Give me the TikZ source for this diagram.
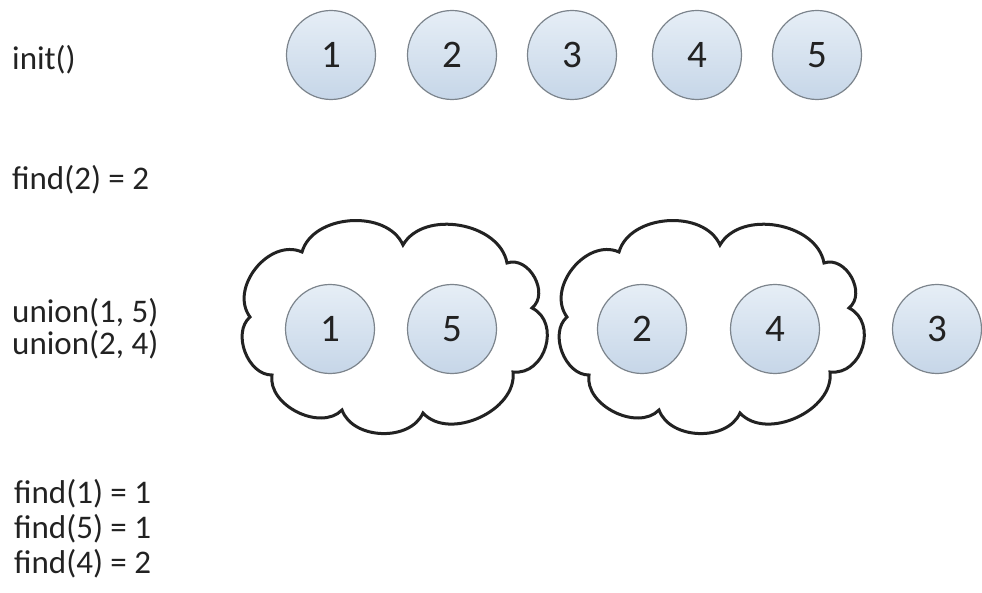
\documentclass[tikz,border=0pt]{standalone}
\usepackage{fontspec}
\setmainfont{Carlito}
\usepackage{xcolor}
\definecolor{ringgrey}{HTML}{7C848C}
\definecolor{fillhi}{HTML}{E6EEF6}
\definecolor{filllo}{HTML}{C6D6E8}
\definecolor{ink}{HTML}{222222}
\tikzset{
  setnode/.style={circle,draw=ringgrey,line width=1.2pt,top color=fillhi,bottom color=filllo,
    minimum size=89pt,inner sep=0pt,font=\fontsize{39}{40}\selectfont,text=ink},
  cloudline/.style={draw=ink,line width=3pt,fill=white,line join=miter},
  oplabel/.style={anchor=base west,font=\fontsize{33}{35}\selectfont,text=ink,inner sep=0pt},
  cloudset/.pic={
    \path[cloudline] (-91,-76) to[bend left=70] (10,-83) to[bend left=70] (114,-65)
      to[bend left=80,looseness=1.15] (139,-20) to[bend left=80,looseness=1.25] (120,44)
      to[bend left=72] (30,85) to[bend left=68] (-51,82) to[bend left=72] (-121,47)
      to[bend left=70] (-143,-11) to[bend left=75,looseness=1.1] cycle;
  }
}
\begin{document}
\begin{tikzpicture}[x=1pt,y=-1pt]
  \useasboundingbox (0,0) rectangle (982,593);
  % operations
  \node[oplabel] (init) at (12,70) {init()};
  \node[oplabel] (find2) at (12,190) {find(2) = 2};
  \node[oplabel] (union15) at (12,323) {union(1, 5)};
  \node[oplabel] (union24) at (12,355) {union(2, 4)};
  \node[oplabel] (find1) at (14,503) {find(1) = 1};
  \node[oplabel] (find5) at (14,538) {find(5) = 1};
  \node[oplabel] (find4) at (14,573) {find(4) = 2};
  % initial sets
  \foreach \n/\x in {1/331,2/452,3/572,4/697,5/817}
    \node[setnode] (top\n) at (\x,55) {\n};
  % merged sets
  \coordinate (cloudA) at (393,328);
  \coordinate (cloudB) at (710,328);
  \path (cloudA) pic {cloudset};
  \path (cloudB) pic {cloudset};
  \node[setnode] (mid1) at (330,329) {1};
  \node[setnode] (mid5) at (452,329) {5};
  \node[setnode] (mid2) at (642,329) {2};
  \node[setnode] (mid4) at (775,329) {4};
  \node[setnode] (mid3) at (937,329) {3};
\end{tikzpicture}
\end{document}
